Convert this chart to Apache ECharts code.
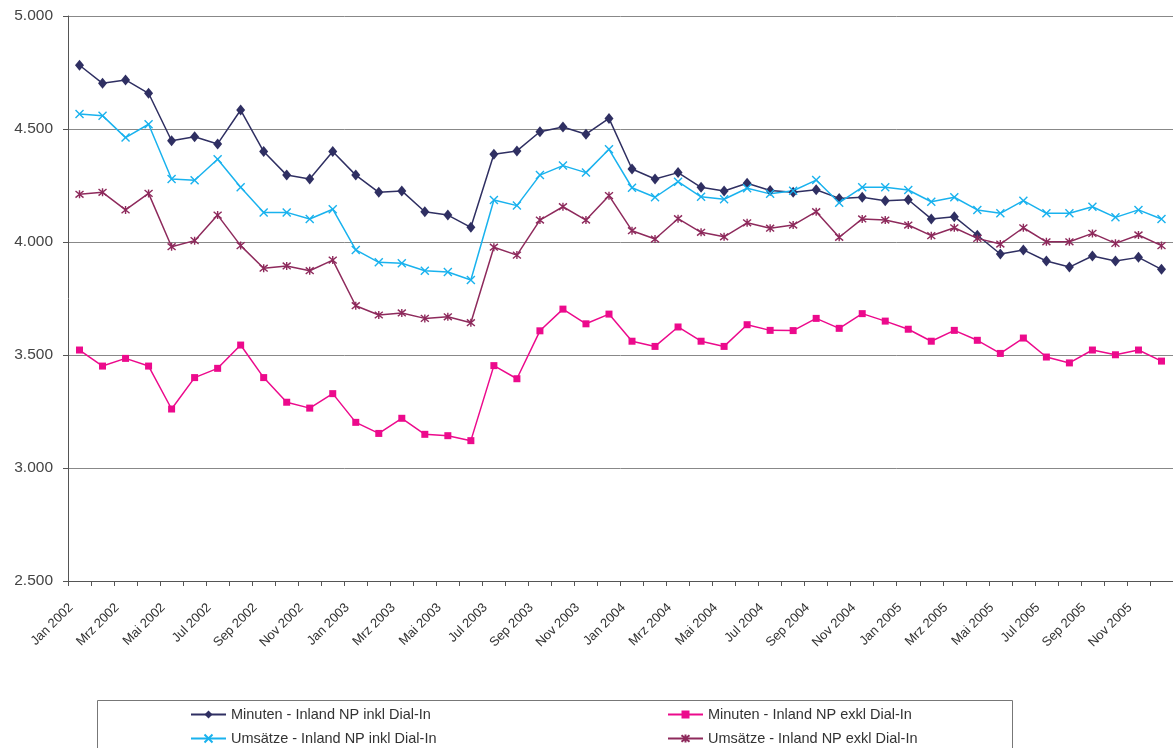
<!DOCTYPE html>
<html>
<head>
<meta charset="utf-8">
<script src="https://cdn.jsdelivr.net/npm/echarts@6/dist/echarts.min.js"></script>
<style>
  html, body { margin: 0; padding: 0; background: #fff; }
  #chart { width: 1173px; height: 748px; }
</style>
</head>
<body>
<div id="chart"></div>
<script>
// Monthly categories, Jan 2002 – Dez 2005
const monthNames = ['Jan', 'Feb', 'Mrz', 'Apr', 'Mai', 'Jun', 'Jul', 'Aug', 'Sep', 'Okt', 'Nov', 'Dez'];
const years = [2002, 2003, 2004, 2005];
const categories = [];
years.forEach(y => monthNames.forEach(m => categories.push(m + ' ' + y)));

// Series values
const minutenInkl = [
  4782, 4702, 4717, 4658, 4448, 4466, 4434, 4584, 4400, 4296, 4279, 4400,
  4296, 4220, 4226, 4134, 4119, 4065, 4388, 4403, 4488, 4509, 4477, 4547,
  4323, 4279, 4307, 4242, 4226, 4260, 4228, 4220, 4231, 4193, 4198, 4183,
  4187, 4102, 4112, 4030, 3947, 3965, 3916, 3889, 3938, 3916, 3932, 3879
];
const minutenExkl = [
  3522, 3451, 3485, 3451, 3261, 3400, 3441, 3544, 3400, 3291, 3265, 3329,
  3202, 3153, 3220, 3149, 3143, 3121, 3453, 3395, 3607, 3703, 3638, 3681,
  3561, 3538, 3624, 3561, 3538, 3634, 3609, 3608, 3662, 3618, 3683, 3650,
  3614, 3561, 3609, 3565, 3507, 3575, 3491, 3465, 3522, 3501, 3522, 3473
];
const umsaetzeInkl = [
  4566, 4559, 4462, 4521, 4279, 4273, 4366, 4242, 4131, 4131, 4102, 4145,
  3965, 3910, 3906, 3873, 3867, 3832, 4186, 4161, 4296, 4338, 4307, 4410,
  4240, 4198, 4267, 4200, 4189, 4238, 4213, 4227, 4274, 4174, 4242, 4242,
  4230, 4178, 4198, 4142, 4127, 4183, 4127, 4127, 4156, 4109, 4142, 4102
];
const umsaetzeExkl = [
  4211, 4220, 4142, 4215, 3979, 4006, 4119, 3984, 3884, 3894, 3873, 3920,
  3718, 3677, 3686, 3662, 3669, 3643, 3977, 3942, 4097, 4156, 4097, 4205,
  4050, 4013, 4103, 4043, 4023, 4085, 4061, 4075, 4134, 4021, 4102, 4097,
  4075, 4028, 4063, 4016, 3991, 4063, 4001, 4001, 4038, 3994, 4031, 3984
];

// Value axis ticks
const yTicks = [2500, 3000, 3500, 4000, 4500, 5000];

const seriesNames = [
  'Minuten - Inland NP inkl Dial-In',
  'Minuten - Inland NP exkl Dial-In',
  'Umsätze - Inland NP inkl Dial-In',
  'Umsätze - Inland NP exkl Dial-In'
];

const colors = {
  navy: '#2f2f62',
  magenta: '#ec0a8c',
  cyan: '#19b2ee',
  maroon: '#8e2a5c'
};

const crossPath = 'path://M0,0L10,10M10,0L0,10';
const starPath = 'path://M0,0L10,10M10,0L0,10M5,-1L5,11';

const fmt = v => String(v).replace(/\B(?=(\d{3})+(?!\d))/g, '.');

const chart = echarts.init(document.getElementById('chart'), null, { renderer: 'canvas' });

const textFont = 'Liberation Sans, Arial, sans-serif';

function lineSeries(name, data, color, symbol, size, hollow) {
  return {
    name: name,
    type: 'line',
    data: data,
    symbol: symbol,
    symbolSize: size,
    showAllSymbol: true,
    lineStyle: { color: color, width: 1.5 },
    itemStyle: hollow
      ? { color: 'rgba(0,0,0,0)', borderColor: color, borderWidth: 1.4 }
      : { color: color, borderWidth: 0 },
    emphasis: { disabled: true },
    animation: false,
    z: 3
  };
}

const legendCommon = {
  orient: 'vertical',
  height: 60,
  padding: 0,
  itemWidth: 35,
  itemHeight: 10,
  itemGap: 9,
  textStyle: { fontFamily: textFont, fontSize: 14.5, color: '#333' },
  selectedMode: false
};

chart.setOption({
  backgroundColor: '#fff',
  animation: false,
  grid: { left: 68, top: 16, width: 1111, height: 565 },
  xAxis: {
    type: 'category',
    data: categories,
    boundaryGap: true,
    axisLine: { lineStyle: { color: '#555', width: 1 } },
    axisTick: { show: true, interval: 0, length: 5, lineStyle: { color: '#555' } },
    axisLabel: {
      interval: 1,
      rotate: 45,
      margin: 16,
      padding: [0, 12, 0, 0],
      fontFamily: textFont,
      fontSize: 13,
      color: '#333'
    },
    splitLine: { show: false }
  },
  yAxis: {
    type: 'value',
    min: yTicks[0],
    max: yTicks[yTicks.length - 1],
    interval: 500,
    axisLine: { show: true, lineStyle: { color: '#555', width: 1 } },
    axisTick: { show: true, length: 5, lineStyle: { color: '#555' } },
    axisLabel: {
      margin: 15,
      fontFamily: textFont,
      fontSize: 15.5,
      color: '#444',
      formatter: fmt
    },
    splitLine: { show: true, lineStyle: { color: '#888', width: 1 } }
  },
  legend: [
    Object.assign({ left: 190, top: 707, data: [seriesNames[0], seriesNames[2]] }, legendCommon),
    Object.assign({ left: 667, top: 707, data: [seriesNames[1], seriesNames[3]] }, legendCommon)
  ],
  graphic: [{
    type: 'rect',
    shape: { x: 97.5, y: 700.5, width: 915, height: 60 },
    style: { fill: 'none', stroke: '#777', lineWidth: 1 },
    silent: true
  }],
  series: [
    lineSeries(seriesNames[0], minutenInkl, colors.navy, 'diamond', [9, 11], false),
    lineSeries(seriesNames[1], minutenExkl, colors.magenta, 'rect', 7, false),
    lineSeries(seriesNames[2], umsaetzeInkl, colors.cyan, crossPath, 8, true),
    lineSeries(seriesNames[3], umsaetzeExkl, colors.maroon, starPath, 8, true)
  ]
});
</script>
</body>
</html>
